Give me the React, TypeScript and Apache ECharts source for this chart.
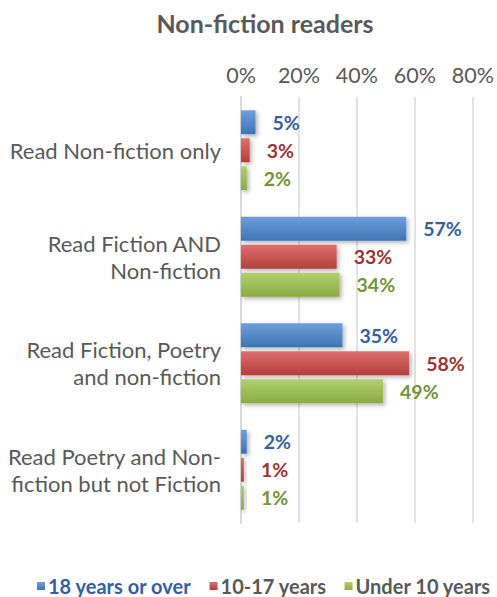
import React, { useEffect, useRef } from "react";
import * as echarts from "echarts";

const categories = [
  "Read Non-fiction only",
  "Read Fiction AND\nNon-fiction",
  "Read Fiction, Poetry\nand non-fiction",
  "Read Poetry and Non-\nfiction but not Fiction",
];
const seriesNames = ["18 years or over", "10-17 years", "Under 10 years"];
const adults = [5, 57, 35, 2];
const teens = [3, 33, 58, 1];
const children = [2, 34, 49, 1];
const xTicks = [0, 20, 40, 60, 80];

const FONT = "Lato";
const GRAY = "#595959";

const barColors = [
  ["#6F9FDB", "#3F73B4"],
  ["#DE6F6C", "#B3403D"],
  ["#B2D06E", "#8AAC47"],
];
const labelColors = ["#36609C", "#9B3533", "#76923B"];

export default function App() {
  const ref = useRef<HTMLDivElement>(null);
  useEffect(() => {
    if (!ref.current) return;
    const chart = echarts.init(ref.current, undefined, { renderer: "svg" });
    const datasets = [adults, teens, children];
    chart.setOption({
      animation: false,
      backgroundColor: "#fff",
      title: {
        text: "Non-fiction readers",
        left: 260,
        textAlign: "center",
        top: 5,
        textStyle: { fontFamily: FONT, fontSize: 25, fontWeight: "bold", color: GRAY },
      },
      legend: {
        left: 37,
        top: 576,
        width: 480,
        padding: 0,
        itemWidth: 8,
        itemHeight: 8,
        itemGap: 18,
        icon: "rect",
        textStyle: { fontFamily: FONT, fontSize: 20, lineHeight: 20, fontWeight: "bold", color: GRAY, padding: [0, 0, 0, -2] },
        data: seriesNames.map((n, i) => ({
          name: n,
          textStyle: i === 0 ? { color: labelColors[0] } : { color: GRAY },
        })),
      },
      grid: { left: 241, right: 22, top: 97, bottom: 74, containLabel: false },
      xAxis: {
        type: "value",
        position: "top",
        min: 0,
        max: 80,
        interval: 20,
        axisLine: { show: false },
        axisTick: { show: false },
        axisLabel: {
          formatter: (v: number) => (xTicks.includes(v) ? v + "%" : ""),
          fontFamily: FONT,
          fontSize: 21.5,
          color: GRAY,
          margin: 11,
        },
        splitLine: { lineStyle: { color: "#D9D9D9", width: 1.5 } },
      },
      yAxis: {
        type: "category",
        inverse: true,
        data: categories,
        axisLine: { lineStyle: { color: "#D9D9D9", width: 2 } },
        axisTick: { show: false },
        axisLabel: {
          fontFamily: FONT,
          fontSize: 22,
          color: GRAY,
          margin: 20,
          lineHeight: 27,
          align: "right",
        },
      },
      series: seriesNames.map((name, i) => ({
        name,
        type: "bar",
        data: datasets[i],
        barGap: "17%",
        barCategoryGap: "25%",
        itemStyle: {
          color: new echarts.graphic.LinearGradient(0, 0, 0, 1, [
            { offset: 0, color: barColors[i][0] },
            { offset: 1, color: barColors[i][1] },
          ]),
          shadowColor: "rgba(0,0,0,0.3)",
          shadowBlur: 4,
          shadowOffsetX: 2,
          shadowOffsetY: 2,
        },
        label: {
          show: true,
          position: "right",
          distance: 17,
          formatter: "{c}%",
          fontFamily: FONT,
          fontSize: 19.5,
          fontWeight: "bold",
          color: labelColors[i],
        },
      })),
    });
    return () => chart.dispose();
  }, []);
  return <div ref={ref} style={{ width: 497, height: 597, position: "absolute", left: 0, top: 0 }} />;
}
